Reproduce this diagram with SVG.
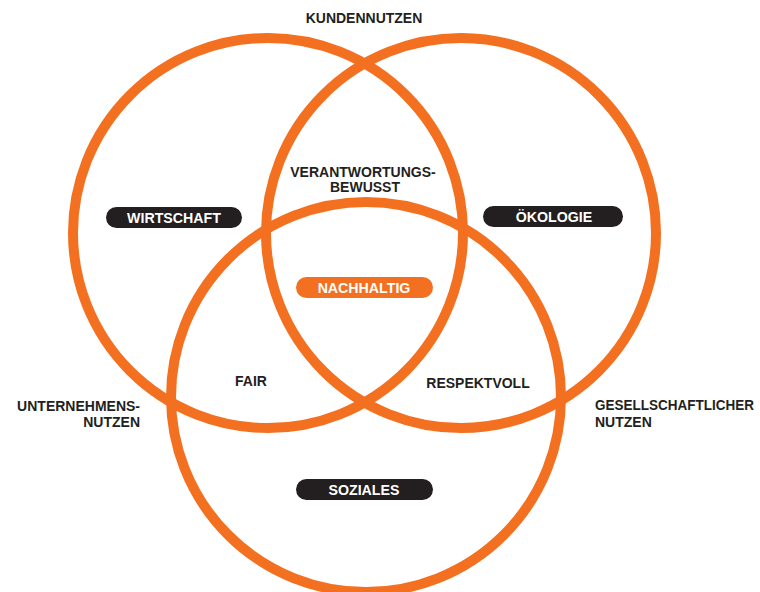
<svg xmlns="http://www.w3.org/2000/svg" width="760" height="592" viewBox="0 0 760 592">
<style>
.c{fill:none;stroke:#f37021;stroke-width:10}
.t{font-family:"Liberation Sans",Arial,sans-serif;font-weight:bold;font-size:14px;fill:#231f20}
.p{font-family:"Liberation Sans",Arial,sans-serif;font-weight:bold;font-size:14.2px;fill:#fff;text-anchor:middle}
.m{text-anchor:middle}
.e{text-anchor:end}
.dark{fill:#231f20}
.org{fill:#f37021}
</style>
<rect width="760" height="592" fill="#fff"/>
<g id="circles">
<circle id="c-wirtschaft" class="c" cx="268" cy="233" r="195"/>
<circle id="c-oekologie" class="c" cx="461" cy="233" r="195"/>
<circle id="c-soziales" class="c" cx="366" cy="397" r="195"/>
</g>
<g id="kundennutzen"><text class="t m" x="364" y="23">KUNDENNUTZEN</text></g>
<g id="verantwortung"><text class="t m" x="363" y="176.5">VERANTWORTUNGS-</text><text class="t m" x="365" y="192">BEWUSST</text></g>
<g id="wirtschaft"><rect class="dark" x="106" y="207" width="136" height="21" rx="10.5"/><text class="p" x="174" y="222.5">WIRTSCHAFT</text></g>
<g id="oekologie"><rect class="dark" x="483" y="206" width="140" height="21" rx="10.5"/><text class="p" x="554" y="222">ÖKOLOGIE</text></g>
<g id="nachhaltig"><rect class="org" x="296" y="277" width="137" height="21" rx="10.5"/><text class="p" x="364" y="293">NACHHALTIG</text></g>
<g id="fair"><text class="t m" x="251" y="386">FAIR</text></g>
<g id="respektvoll"><text class="t m" x="478" y="388">RESPEKTVOLL</text></g>
<g id="unternehmensnutzen"><text class="t e" x="140" y="410.5">UNTERNEHMENS-</text><text class="t e" x="140" y="427">NUTZEN</text></g>
<g id="gesellschaftlicher"><text class="t" x="595" y="410" textLength="159" lengthAdjust="spacingAndGlyphs">GESELLSCHAFTLICHER</text><text class="t" x="595" y="426.5">NUTZEN</text></g>
<g id="soziales"><rect class="dark" x="296" y="479" width="137" height="21" rx="10.5"/><text class="p" x="364" y="495">SOZIALES</text></g>
</svg>
